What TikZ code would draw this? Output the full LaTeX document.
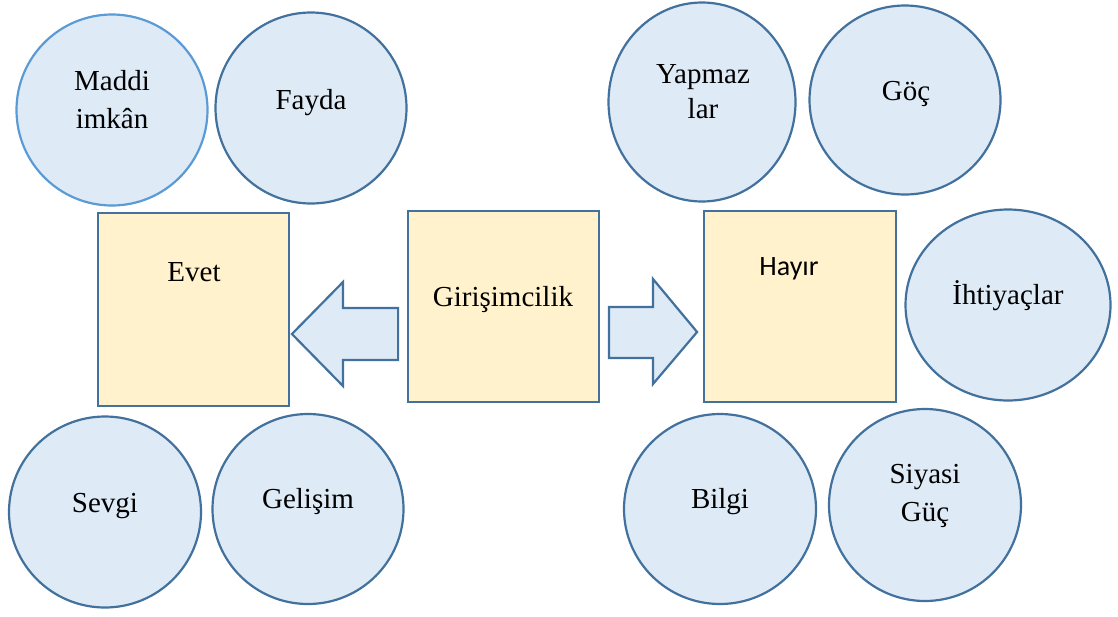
\documentclass[tikz,border=0pt]{standalone}
\usepackage{fontspec}
\setmainfont{Liberation Serif}
\newfontfamily\calib{Carlito}
\usetikzlibrary{shapes.geometric}
\definecolor{cfill}{HTML}{DEEAF6}
\definecolor{cline}{HTML}{41719C}
\definecolor{clight}{HTML}{5B9BD5}
\definecolor{bfill}{HTML}{FFF2CC}
\begin{document}
\begin{tikzpicture}[x=1pt,y=-1pt,
  bubble/.style={ellipse, draw=cline, fill=cfill, line width=2.2pt, inner sep=0pt},
  box/.style={rectangle, draw=cline, fill=bfill, line width=1.8pt, inner sep=0pt},
  blockarrow/.style={draw=cline, fill=cfill, line width=2.2pt, line join=miter},
  lbl/.style={font=\fontsize{29}{38}\selectfont, align=center, inner sep=0pt, anchor=base}]
\useasboundingbox (0,0) rectangle (1118,616);
% circles
\node[bubble, draw=clight, minimum width=191pt, minimum height=191pt] (maddi) at (112,110) {};
\node[bubble, minimum width=191pt, minimum height=191pt] (fayda) at (311,108) {};
\node[bubble, minimum width=187pt, minimum height=199pt] (yapmaz) at (702,102) {};
\node[bubble, minimum width=191pt, minimum height=189pt] (goc) at (905,100) {};
\node[bubble, minimum width=205pt, minimum height=191pt] (ihtiyac) at (1008,305) {};
\node[bubble, minimum width=192pt, minimum height=191pt] (sevgi) at (105,512) {};
\node[bubble, minimum width=191pt, minimum height=190pt] (gelisim) at (308,509) {};
\node[bubble, minimum width=192pt, minimum height=190pt] (bilgi) at (720,509) {};
\node[bubble, minimum width=192pt, minimum height=192pt] (siyasi) at (925,505) {};
% boxes
\node[box, minimum width=191pt, minimum height=193pt] (evet) at (193.5,309.5) {};
\node[box, minimum width=191pt, minimum height=191pt] (giri) at (503.5,306.5) {};
\node[box, minimum width=192pt, minimum height=191pt] (hayir) at (800,306.5) {};
% block arrows (tail near Girişimcilik, tip at Evet / Hayır)
\coordinate (ltail) at ([xshift=-9pt]giri.west);
\coordinate (ltip) at ([xshift=2pt]evet.east);
\coordinate (rtail) at ([xshift=9pt]giri.east);
\coordinate (rtip) at ([xshift=-6pt]hayir.west);
\draw[blockarrow] (ltail |- 0,308) -- (343,308) -- (343,282) -- (ltip |- 0,334)
  -- (343,386) -- (343,360) -- (ltail |- 0,360) -- cycle;
\draw[blockarrow] (rtail |- 0,307) -- (653,307) -- (653,279) -- (rtip |- 0,332)
  -- (653,384) -- (653,358) -- (rtail |- 0,358) -- cycle;
% labels
\node[lbl] (tmaddi) at (112,128) {Maddi\\imkân};
\node[lbl] (tfayda) at (311,109) {Fayda};
\node[lbl] (tyapmaz) at (703,118) {Yapmaz\\[-3pt]lar};
\node[lbl] (tgoc) at (906,100) {Göç};
\node[lbl] (tevet) at (194,281) {Evet};
\node[lbl] (tgiri) at (503,306) {Girişimcilik};
\node[lbl, font=\calib\fontsize{28}{36}\selectfont] (thayir) at (789,275) {Hayır};
\node[lbl] (tihtiyac) at (1008,304) {İhtiyaçlar};
\node[lbl] (tsevgi) at (105,512) {Sevgi};
\node[lbl] (tgelisim) at (308,508) {Gelişim};
\node[lbl] (tbilgi) at (720,508) {Bilgi};
\node[lbl] (tsiyasi) at (925,521) {Siyasi\\Güç};
\end{tikzpicture}
\end{document}
